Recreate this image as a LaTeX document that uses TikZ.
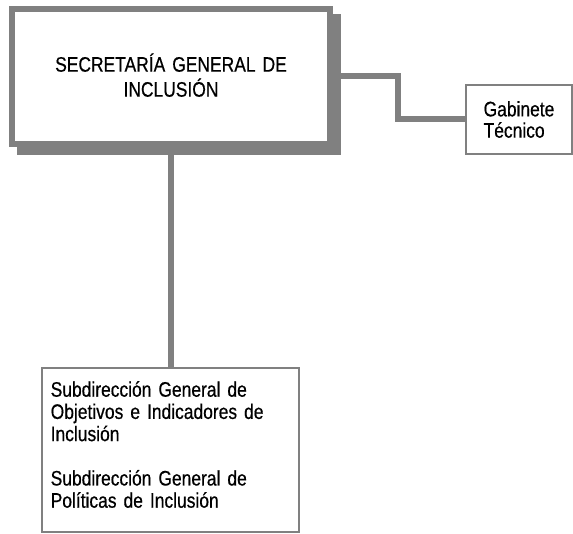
\documentclass[tikz,border=0pt]{standalone}
\usepackage{fontspec}
\newfontfamily\narrowfont[FakeStretch=0.83,FakeBold=0.5,WordSpace=0.8]{Liberation Sans}
\usetikzlibrary{backgrounds}
\definecolor{boxgray}{RGB}{128,128,128}
\begin{document}
\begin{tikzpicture}[x=1pt,y=-1pt,
  mainbox/.style={draw=boxgray, line width=6pt, fill=white, inner sep=0pt,
    text width=318pt, align=center, text height=62.7pt, text depth=72.3pt,
    font=\narrowfont\fontsize{21}{25}\selectfont},
  unitbox/.style={draw=boxgray, line width=2pt, fill=white},
  conn/.style={draw=boxgray, line width=6pt}]
\useasboundingbox (0,0) rectangle (573,534);
\node[mainbox, anchor=north west] (sec) at (9,6) {SECRETARÍA GENERAL DE\\INCLUSIÓN};
\begin{pgfonlayer}{background}
\fill[boxgray] ([shift={(8,8)}]sec.north west) rectangle ([shift={(8,8)}]sec.south east);
\end{pgfonlayer}
\node[unitbox, align=left, minimum width=106pt, minimum height=69pt, inner sep=0pt,
  font=\narrowfont\fontsize{21}{21.3}\selectfont] (gab) at (519,119.5) {Gabinete\\Técnico};
\node[unitbox, anchor=north west, text width=239.6pt, align=left, inner xsep=8.7pt,
  inner ysep=0pt, text height=28.7pt, text depth=135.3pt,
  font=\narrowfont\fontsize{21}{22.2}\selectfont] (bot) at (41,367)
  {Subdirección General de\\Objetivos e Indicadores de\\Inclusión\\[22.2pt]Subdirección General de\\Políticas de Inclusión};
\draw[conn] (sec.east) -- ++(65,0) |- (gab.west);
\draw[conn] (sec.south) -- (sec.south |- bot.north);
\end{tikzpicture}
\end{document}
